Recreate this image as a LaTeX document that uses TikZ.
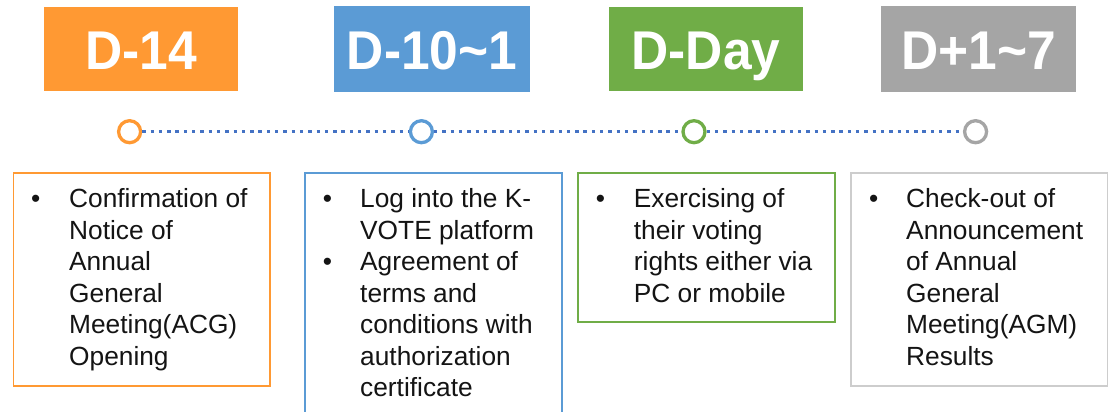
\documentclass[tikz,border=0pt]{standalone}
\usepackage{fontspec}
\setmainfont{Liberation Sans}
\usepackage{graphicx}
\definecolor{cOr}{RGB}{255,153,51}
\definecolor{cBl}{RGB}{91,155,213}
\definecolor{cGr}{RGB}{112,173,71}
\definecolor{cGy}{RGB}{165,165,165}
\definecolor{cGyL}{RGB}{205,205,205}
\definecolor{cDot}{RGB}{68,114,196}
\definecolor{cTxt}{RGB}{20,20,20}
\begin{document}
\begin{tikzpicture}[x=1pt,y=-1pt,
  hdrbox/.style={rectangle, inner sep=0, minimum width=194pt, minimum height=83.7pt, draw=none},
  hdrtext/.style={anchor=base, inner sep=0, text=white, font=\bfseries\fontsize{51.5}{60}\selectfont},
  dot/.style={circle, inner sep=0, minimum size=22pt, line width=3.3pt, fill=white},
  dotline/.style={draw=cDot, line width=3.4pt, dash pattern=on 3.4pt off 4.9pt},
  infobox/.style={rectangle, inner sep=0, line width=1.8pt, fill=white},
  bul/.style={anchor=base, inner sep=0, text=cTxt, font=\fontsize{26.3}{31.5}\selectfont},
  bodytext/.style={anchor=base west, inner sep=0, align=left, text=cTxt, font=\fontsize{26.3}{31.5}\selectfont}
]
\useasboundingbox (0,0) rectangle (1108,412);
\clip (0,0) rectangle (1108,412);
% header boxes
\node[hdrbox, fill=cOr] (h1) at (141,48.9) {};
\node[hdrbox, fill=cBl, minimum width=196pt, minimum height=86pt] (h2) at (432,49) {};
\node[hdrbox, fill=cGr] (h3) at (706,48.9) {};
\node[hdrbox, fill=cGy, minimum width=195pt, minimum height=86pt] (h4) at (978.5,49) {};
\node[hdrtext] (t1) at (141.2,70) {\scalebox{1}[1.06]{D-14}};
\node[hdrtext] (t2) at (432,70) {\scalebox{1}[1.06]{D-10\textasciitilde1}};
\node[hdrtext] (t3) at (706,70) {\scalebox{1}[1.06]{D-Day}};
\node[hdrtext] (t4) at (978.5,70) {\scalebox{1}[1.06]{D+1\textasciitilde7}};
% timeline
\node[dot, draw=cOr] (c1) at (129.6,131.7) {};
\node[dot, draw=cBl] (c2) at (421.4,131.7) {};
\node[dot, draw=cGr] (c3) at (694,131.7) {};
\node[dot, draw=cGy] (c4) at (975.6,131.7) {};
\draw[dotline] (c1) -- (c2);
\draw[dotline] (c2) -- (c3);
\draw[dotline] (c3) -- (c4);
% info boxes
\node[infobox, draw=cOr, anchor=north west, minimum width=256.5pt, minimum height=213.3pt] (b1) at (12.5,171.7) {};
\node[infobox, draw=cBl, anchor=north west, minimum width=257pt, minimum height=260pt] (b2) at (304,171.7) {};
\node[infobox, draw=cGr, anchor=north west, minimum width=256.4pt, minimum height=149pt] (b3) at (577.3,171.7) {};
\node[infobox, draw=cGyL, anchor=north west, minimum width=257pt, minimum height=213.3pt] (b4) at (850,171.7) {};
% texts (base anchor = last line baseline)
\node[bul] (u1) at (35.7,207.5) {\textbullet};
\node[bodytext] (x1) at (69,365) {Confirmation of\\Notice of\\Annual\\General\\Meeting(ACG)\\Opening};
\node[bul] (u2) at (327.5,207.5) {\textbullet};
\node[bodytext] (x2) at (360,239) {Log into the K-\\VOTE platform};
\node[bul] (u3) at (327.5,270.5) {\textbullet};
\node[bodytext] (x3) at (360,396.5) {Agreement of\\terms and\\conditions with\\authorization\\certificate};
\node[bul] (u4) at (600.5,207.5) {\textbullet};
\node[bodytext] (x4) at (633.7,302) {Exercising of\\their voting\\rights either via\\PC or mobile};
\node[bul] (u5) at (873.7,207.5) {\textbullet};
\node[bodytext] (x5) at (906,365) {Check-out of\\Announcement\\of Annual\\General\\Meeting(AGM)\\Results};
\end{tikzpicture}
\end{document}
